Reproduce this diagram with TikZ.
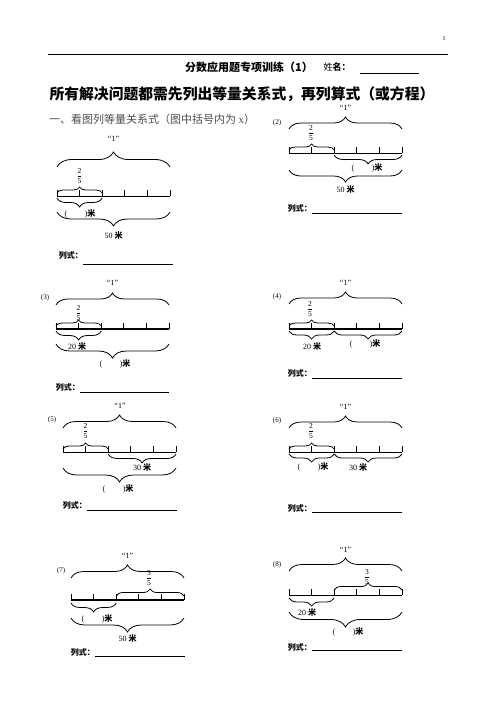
\documentclass[tikz,border=0pt]{standalone}
\usepackage{amsmath}
\usepackage{fontspec}
\setmainfont{Liberation Serif}
\newfontfamily\cjk{Noto Sans CJK SC}
\usetikzlibrary{decorations.pathreplacing}
\newcommand{\mimark}{{\cjk\bfseries 米}}
\newcommand{\fr}[2]{$\dfrac{\textrm{#1}}{\textrm{#2}}$}
\begin{document}
\begin{tikzpicture}[x=1pt,y=-1pt,
    bar/.style={line width=0.8pt},
    thickbar/.style={line width=1.7pt},
    segtick/.style={line width=0.8pt},
    upbrace/.style={line width=0.8pt,decorate,decoration={brace,amplitude=#1}},
    downbrace/.style={line width=0.8pt,decorate,decoration={brace,mirror,amplitude=#1}},
    lbl/.style={inner sep=0pt,font=\fontsize{8}{8}\selectfont},
    fracl/.style={inner sep=0pt,font=\fontsize{7.5}{7.5}\selectfont},
    num/.style={inner sep=0pt,font=\fontsize{7}{7}\selectfont},
    eqlbl/.style={inner sep=0pt,anchor=east,font=\fontsize{8}{8}\selectfont\cjk\bfseries}]
\useasboundingbox (0,0) rectangle (496,702);
% header
\node[inner sep=0pt,font=\fontsize{6}{6}\selectfont] (page) at (444,39) {1};
\draw[line width=0.8pt] (48,54) -- (448,54);
\node[inner sep=0pt,font=\fontsize{11}{11}\selectfont\cjk\bfseries] (head) at (249,67) {分数应用题专项训练（1）};
\node[inner sep=0pt,font=\fontsize{9}{9}\selectfont\cjk] (name) at (337,67) {姓\textbf{名：}};
\draw[line width=0.7pt] (360,73) -- (419,73);
\node[inner sep=0pt,font=\fontsize{14.8}{15}\selectfont\cjk\bfseries] (title) at (242,94) {所有解决问题都需先列出等量关系式，再列算式（或方程）};
\node[inner sep=0pt,anchor=west,text=black!70,font=\fontsize{11}{11}\selectfont\cjk] (task) at (49,119) {一、看图列等量关系式（图中括号内为 {\rmfamily x}）};

% (1)
\begin{scope}[shift={(57,196)}]
  \draw[bar] (0,0) -- (113,0);
  \foreach \i in {0,...,5} \draw[segtick] (\i*22.6,0) -- (\i*22.6,-6);
  \draw[upbrace=15pt] (0,-29) -- (113,-29);
  \node[lbl] (one1) at (56.5,-57) {“1”};
  \node[fracl] (frac1) at (22.6,-20) {\fr{2}{5}};
  \draw[upbrace=6pt] (0,-3) -- (45.2,-3);
  \draw[downbrace=9pt] (0,2) -- (45.2,2);
  \node[lbl] (x1) at (23,18) {(\hspace{2.2em})\mimark};
  \draw[downbrace=14pt] (0,16) -- (113,16);
  \node[lbl] (len1) at (56.5,39) {50 \mimark};
  \node[eqlbl] (eq1) at (26,59) {列式：};
  \draw[line width=0.7pt] (26,68) -- (116,68);
\end{scope}

% (2)
\begin{scope}[shift={(289,153)}]
  \node[num] (no2) at (-12,-30) {(2)};
  \draw[bar] (0,0) -- (113,0);
  \foreach \i in {0,...,5} \draw[segtick] (\i*22.6,0) -- (\i*22.6,-6);
  \draw[upbrace=12pt] (0,-24) -- (113,-24);
  \node[lbl] (one2) at (56.5,-45) {“1”};
  \node[fracl] (frac2) at (22,-20) {\fr{2}{5}};
  \draw[upbrace=6pt] (0,-3) -- (45.2,-3);
  \draw[downbrace=9pt] (45.2,2) -- (113,2);
  \node[lbl] (x2) at (78,15) {(\hspace{2.2em})\mimark};
  \draw[downbrace=12pt] (0,17) -- (113,17);
  \node[lbl] (len2) at (56.5,36) {50 \mimark};
  \node[eqlbl] (eq2) at (23,55) {列式：};
  \draw[line width=0.7pt] (23,60) -- (113,60);
\end{scope}

% (3)
\begin{scope}[shift={(56,329)}]
  \node[num] (no3) at (-11,-31) {(3)};
  \draw[thickbar] (0,0) -- (113,0);
  \foreach \i in {0,...,5} \draw[segtick] (\i*22.6,0) -- (\i*22.6,-6);
  \draw[upbrace=12pt] (0,-24) -- (113,-24);
  \node[lbl] (one3) at (56.5,-46) {“1”};
  \node[fracl] (frac3) at (22.6,-16) {\fr{2}{5}};
  \draw[upbrace=6pt] (0,-3) -- (45.2,-3);
  \draw[downbrace=9pt] (0,2) -- (45.2,2);
  \node[lbl] (len3) at (21,17) {20 \mimark};
  \draw[downbrace=14pt] (0,15) -- (113,15);
  \node[lbl] (x3) at (59,35) {(\hspace{2.2em})\mimark};
  \node[eqlbl] (eq3) at (24,58) {列式：};
  \draw[line width=0.7pt] (24,63) -- (113,63);
\end{scope}

% (4)
\begin{scope}[shift={(289,329)}]
  \node[num] (no4) at (-12,-32) {(4)};
  \draw[thickbar] (0,0) -- (113,0);
  \foreach \i in {0,...,5} \draw[segtick] (\i*22.6,0) -- (\i*22.6,-6);
  \draw[upbrace=12pt] (0,-25) -- (113,-25);
  \node[lbl] (one4) at (56.5,-46) {“1”};
  \node[fracl] (frac4) at (21,-20) {\fr{2}{5}};
  \draw[upbrace=6pt] (0,-3) -- (45.2,-3);
  \draw[downbrace=8pt] (0,2) -- (45.2,2);
  \draw[downbrace=8pt] (45.2,2) -- (113,2);
  \node[lbl] (len4) at (23,17) {20 \mimark};
  \node[lbl] (x4) at (76,15) {(\hspace{2.2em})\mimark};
  \node[eqlbl] (eq4) at (23,44) {列式：};
  \draw[line width=0.7pt] (23,49) -- (113,49);
\end{scope}

% (5)
\begin{scope}[shift={(63,452)}]
  \node[num] (no5) at (-11,-32) {(5)};
  \draw[bar] (0,0) -- (113,0);
  \foreach \i in {0,...,5} \draw[segtick] (\i*22.6,0) -- (\i*22.6,-6);
  \draw[upbrace=13pt] (0,-24) -- (113,-24);
  \node[lbl] (one5) at (57,-46) {“1”};
  \node[fracl] (frac5) at (22.6,-21) {\fr{2}{5}};
  \draw[upbrace=6pt] (0,-3) -- (45.2,-3);
  \draw[downbrace=9pt] (45.2,2) -- (113,2);
  \node[lbl] (len5) at (79,15) {30 \mimark};
  \draw[downbrace=14pt] (0,16) -- (113,16);
  \node[lbl] (x5) at (55,37) {(\hspace{2.2em})\mimark};
  \node[eqlbl] (eq5) at (24,53) {列式：};
  \draw[line width=0.7pt] (24,58) -- (114,58);
\end{scope}

% (6)
\begin{scope}[shift={(289,452)}]
  \node[num] (no6) at (-12,-31) {(6)};
  \draw[bar] (0,0) -- (113,0);
  \foreach \i in {0,...,5} \draw[segtick] (\i*22.6,0) -- (\i*22.6,-6);
  \draw[upbrace=12pt] (0,-24) -- (113,-24);
  \node[lbl] (one6) at (56.5,-45) {“1”};
  \node[fracl] (frac6) at (22,-21) {\fr{2}{5}};
  \draw[upbrace=6pt] (0,-3) -- (45.2,-3);
  \draw[downbrace=8pt] (0,2) -- (45.2,2);
  \draw[downbrace=8pt] (45.2,2) -- (113,2);
  \node[lbl] (x6) at (24,15) {(\hspace{2.2em})\mimark};
  \node[lbl] (len6) at (69,15) {30 \mimark};
  \node[eqlbl] (eq6) at (23,56) {列式：};
  \draw[line width=0.7pt] (23,60) -- (113,60);
\end{scope}

% (7)
\begin{scope}[shift={(71,600)}]
  \node[num] (no7) at (-10,-29) {(7)};
  \draw[thickbar] (0,0) -- (113,0);
  \foreach \i in {0,...,5} \draw[segtick] (\i*22.6,0) -- (\i*22.6,-6);
  \draw[upbrace=13pt] (0,-22) -- (113,-22);
  \node[lbl] (one7) at (56.5,-44) {“1”};
  \node[fracl] (frac7) at (78,-22) {\fr{3}{5}};
  \draw[upbrace=7pt] (45.2,-4) -- (113,-4);
  \draw[downbrace=9pt] (0,3) -- (45.2,3);
  \node[lbl] (x7) at (26,19) {(\hspace{2.2em})\mimark};
  \draw[downbrace=14pt] (0,18) -- (113,18);
  \node[lbl] (len7) at (56.5,38) {50 \mimark};
  \node[eqlbl] (eq7) at (24,52) {列式：};
  \draw[line width=0.7pt] (24,56) -- (114,56);
\end{scope}

% (8)
\begin{scope}[shift={(289,595)}]
  \node[num] (no8) at (-12,-30) {(8)};
  \draw[bar] (0,0) -- (113,0);
  \foreach \i in {0,...,5} \draw[segtick] (\i*22.6,0) -- (\i*22.6,-6);
  \draw[upbrace=13pt] (0,-24) -- (113,-24);
  \node[lbl] (one8) at (56.5,-45) {“1”};
  \node[fracl] (frac8) at (78,-18) {\fr{3}{5}};
  \draw[upbrace=7pt] (45.2,-5) -- (113,-5);
  \draw[downbrace=8pt] (0,3) -- (45.2,3);
  \node[lbl] (len8) at (18,17) {20 \mimark};
  \draw[downbrace=15pt] (0,17) -- (113,17);
  \node[lbl] (x8) at (59,37) {(\hspace{2.2em})\mimark};
  \node[eqlbl] (eq8) at (23,52) {列式：};
  \draw[line width=0.7pt] (23,55) -- (113,55);
\end{scope}
\end{tikzpicture}
\end{document}
